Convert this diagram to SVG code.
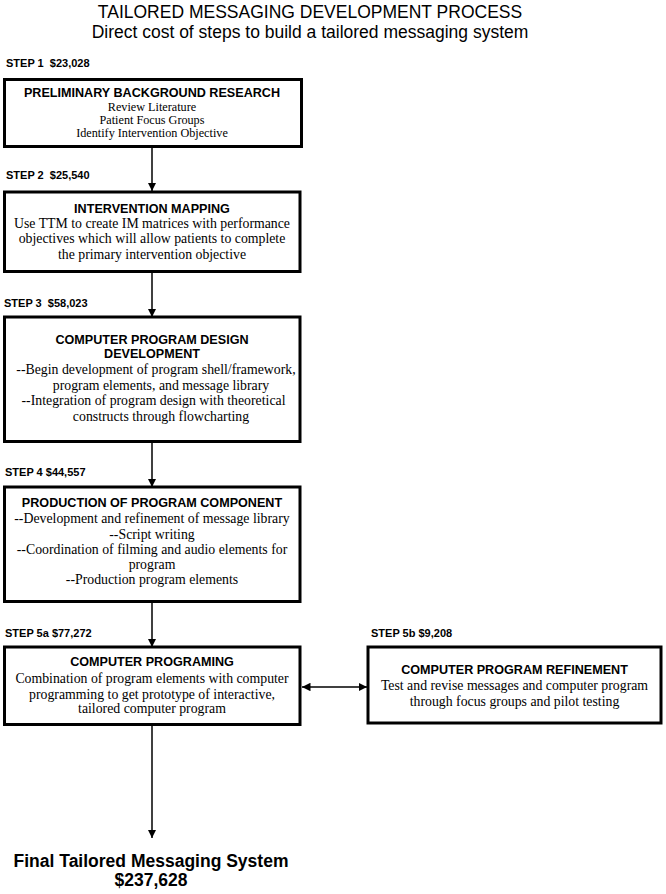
<svg xmlns="http://www.w3.org/2000/svg" width="666" height="894" viewBox="0 0 666 894">
<defs>
<marker id="ah" viewBox="0 0 10 10" refX="10" refY="5" markerWidth="8.5" markerHeight="8.5" markerUnits="userSpaceOnUse" orient="auto-start-reverse">
<path d="M0,0 L10,5 L0,10 Z" fill="#000"/>
</marker>
</defs>
<style>
.bg{fill:#fff}
.box{fill:#fff;stroke:#000;stroke-width:3}
.hd{font-family:"Liberation Sans",Arial,sans-serif;font-weight:bold;font-size:12.6px;text-anchor:middle;fill:#000}
.bd{font-family:"Liberation Serif","Times New Roman",serif;font-size:13.8px;text-anchor:middle;fill:#000}
.bd1{font-family:"Liberation Serif","Times New Roman",serif;font-size:12.2px;text-anchor:middle;fill:#000}
.st{font-family:"Liberation Sans",Arial,sans-serif;font-weight:bold;font-size:11px;fill:#000;white-space:pre}
.tt{font-family:"Liberation Sans",Arial,sans-serif;font-size:17.5px;text-anchor:middle;fill:#000}
.fn{font-family:"Liberation Sans",Arial,sans-serif;font-weight:bold;font-size:17.5px;text-anchor:middle;fill:#000}
.cn{fill:none;stroke:#000;stroke-width:1.5}
</style>
<rect class="bg" x="0" y="0" width="666" height="894"/>
<g id="title">
<text class="tt" x="310" y="18.3">TAILORED MESSAGING DEVELOPMENT PROCESS</text>
<text class="tt" x="310" y="37.5">Direct cost of steps to build a tailored messaging system</text>
</g>
<g id="connectors">
<line class="cn" x1="152" y1="148" x2="152" y2="191" marker-end="url(#ah)"/>
<line class="cn" x1="152" y1="272" x2="152" y2="317" marker-end="url(#ah)"/>
<line class="cn" x1="152" y1="443" x2="152" y2="487" marker-end="url(#ah)"/>
<line class="cn" x1="152" y1="603" x2="152" y2="647" marker-end="url(#ah)"/>
<line class="cn" x1="302" y1="687" x2="367" y2="687" marker-start="url(#ah)" marker-end="url(#ah)"/>
<line class="cn" x1="152" y1="726" x2="152" y2="838" marker-end="url(#ah)"/>
</g>
<g id="step1">
<text class="st" x="6" y="66.7" xml:space="preserve">STEP 1  $23,028</text>
<rect class="box" x="4.5" y="79.5" width="297" height="67"/>
<text class="hd" x="152" y="96.7">PRELIMINARY BACKGROUND RESEARCH</text>
<text class="bd1" x="152" y="111">Review Literature</text>
<text class="bd1" x="152" y="123.5">Patient Focus Groups</text>
<text class="bd1" x="152" y="136.5">Identify Intervention Objective</text>
</g>
<g id="step2">
<text class="st" x="6" y="179" xml:space="preserve">STEP 2  $25,540</text>
<rect class="box" x="4.5" y="192" width="295.5" height="79.5"/>
<text class="hd" x="152" y="212.5">INTERVENTION MAPPING</text>
<text class="bd" x="152" y="227.5">Use TTM to create IM matrices with performance</text>
<text class="bd" x="152" y="243">objectives which will allow patients to complete</text>
<text class="bd" x="152" y="258.5">the primary intervention objective</text>
</g>
<g id="step3">
<text class="st" x="4" y="306.7" xml:space="preserve">STEP 3  $58,023</text>
<rect class="box" x="4.5" y="317" width="295.5" height="124.5"/>
<text class="hd" x="152" y="344.3">COMPUTER PROGRAM DESIGN</text>
<text class="hd" x="152" y="358.3">DEVELOPMENT</text>
<text class="bd" x="156" y="374">--Begin development of program shell/framework,</text>
<text class="bd" x="161" y="389.5">program elements, and message library</text>
<text class="bd" x="153.5" y="405">--Integration of program design with theoretical</text>
<text class="bd" x="161" y="420.5">constructs through flowcharting</text>
</g>
<g id="step4">
<text class="st" x="5" y="476">STEP 4 $44,557</text>
<rect class="box" x="4.5" y="487" width="295.5" height="114.5"/>
<text class="hd" x="152" y="506.7">PRODUCTION OF PROGRAM COMPONENT</text>
<text class="bd" x="152" y="523">--Development and refinement of message library</text>
<text class="bd" x="152" y="538.5">--Script writing</text>
<text class="bd" x="152" y="554">--Coordination of filming and audio elements for</text>
<text class="bd" x="152" y="569">program</text>
<text class="bd" x="152" y="584">--Production program elements</text>
</g>
<g id="step5a">
<text class="st" x="5" y="636.7">STEP 5a $77,272</text>
<rect class="box" x="4.5" y="647" width="295.5" height="77.5"/>
<text class="hd" x="152" y="665.5">COMPUTER PROGRAMING</text>
<text class="bd" x="152" y="683">Combination of program elements with computer</text>
<text class="bd" x="152" y="698.5">programming to get prototype of interactive,</text>
<text class="bd" x="152" y="713">tailored computer program</text>
</g>
<g id="step5b">
<text class="st" x="371" y="636.7">STEP 5b $9,208</text>
<rect class="box" x="368" y="647" width="293" height="76"/>
<text class="hd" x="514.5" y="674">COMPUTER PROGRAM REFINEMENT</text>
<text class="bd" x="514.5" y="690">Test and revise messages and computer program</text>
<text class="bd" x="514.5" y="705.5">through focus groups and pilot testing</text>
</g>
<g id="final">
<text class="fn" x="151" y="866.5">Final Tailored Messaging System</text>
<text class="fn" x="151" y="885.5">$237,628</text>
</g>
</svg>
